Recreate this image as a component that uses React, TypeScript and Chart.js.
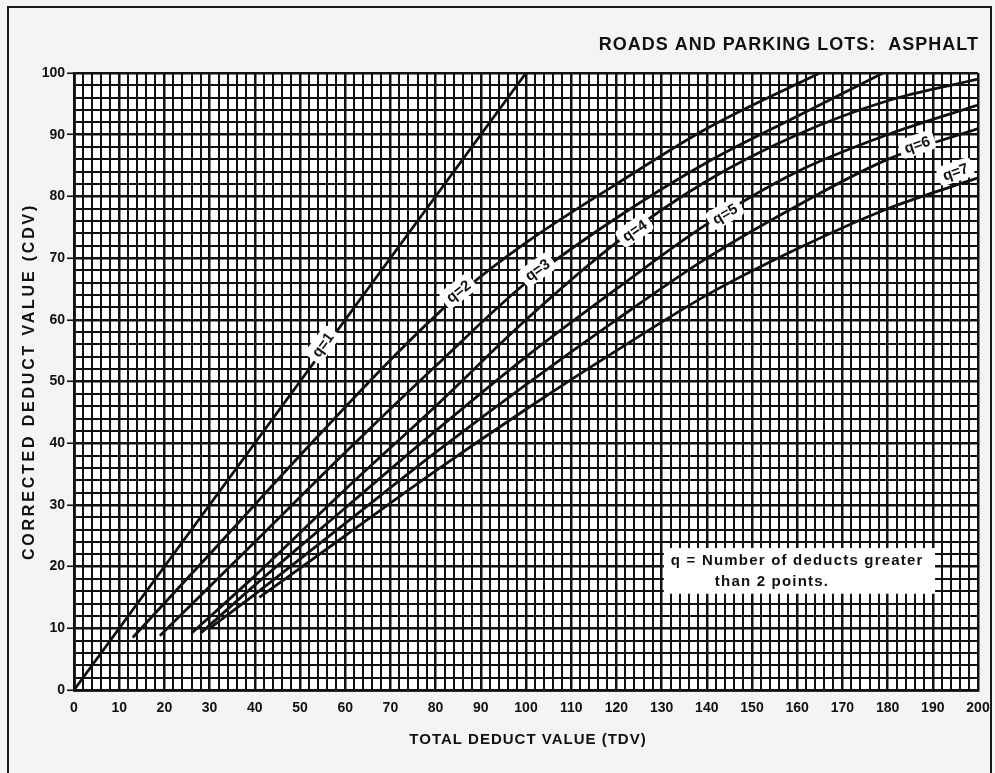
import React, { useEffect, useRef } from "react";
import { Chart, registerables } from "chart.js";

Chart.register(...registerables);

const TITLE = "ROADS AND PARKING LOTS:  ASPHALT";
const X_TITLE = "TOTAL DEDUCT VALUE (TDV)";
const Y_TITLE = "CORRECTED DEDUCT VALUE (CDV)";
const LEGEND_LINES = ["q = Number of deducts greater", "than 2 points."];

const curveNames = ["q=1", "q=2", "q=3", "q=4", "q=5", "q=6", "q=7"];

const q1TDV = [0, 50, 100];
const q1CDV = [0, 50, 100];
const q2TDV = [13, 30, 50, 70, 85, 100, 120, 140, 165];
const q2CDV = [8.5, 22, 38, 53.5, 64, 72.5, 82, 91, 100];
const q3TDV = [19, 40, 60, 80, 100, 120, 140, 160, 179];
const q3CDV = [8.8, 24, 38.5, 52.5, 66, 76.5, 85.5, 93, 100];
const q4TDV = [26, 40, 60, 80, 100, 120, 140, 160, 180, 200];
const q4CDV = [9.2, 18.5, 32.5, 46, 60, 72.5, 82.5, 90, 95.5, 99];
const q5TDV = [28, 40, 60, 80, 100, 120, 140, 160, 180, 200];
const q5CDV = [9.2, 17, 29.5, 42, 54, 65, 75.5, 84, 90, 94.8];
const q6TDV = [30, 40, 60, 80, 100, 120, 140, 160, 180, 200];
const q6CDV = [10, 15.5, 27, 38.5, 49.5, 60, 70, 78.5, 86, 91];
const q7TDV = [41, 60, 80, 100, 120, 140, 160, 180, 200];
const q7CDV = [15, 25, 35.5, 45.5, 55, 64, 71.5, 78, 83];

const curveTDV = [q1TDV, q2TDV, q3TDV, q4TDV, q5TDV, q6TDV, q7TDV];
const curveCDV = [q1CDV, q2CDV, q3CDV, q4CDV, q5CDV, q6CDV, q7CDV];

// where each q label sits along its curve (TDV) and how far above the curve (px)
const labelTDV = [55, 85, 102.5, 124, 144, 186.5, 195];
const labelLift = [6, 4, 5, 0, 0, 5, 14];

const xTickValues = [0, 10, 20, 30, 40, 50, 60, 70, 80, 90, 100, 110, 120, 130, 140, 150, 160, 170, 180, 190, 200];
const yTickValues = [0, 10, 20, 30, 40, 50, 60, 70, 80, 90, 100];

const FONT = "'Liberation Sans', Arial, sans-serif";
const INK = "#111111";

function interp(xs: number[], ys: number[], t: number) {
  if (t <= xs[0]) return ys[0];
  for (let i = 1; i < xs.length; i++) {
    if (t <= xs[i]) {
      const f = (t - xs[i - 1]) / (xs[i] - xs[i - 1]);
      return ys[i - 1] + f * (ys[i] - ys[i - 1]);
    }
  }
  return ys[ys.length - 1];
}

function roundRect(ctx: CanvasRenderingContext2D, x: number, y: number, w: number, h: number, r: number) {
  ctx.beginPath();
  ctx.moveTo(x + r, y);
  ctx.lineTo(x + w - r, y);
  ctx.quadraticCurveTo(x + w, y, x + w, y + r);
  ctx.lineTo(x + w, y + h - r);
  ctx.quadraticCurveTo(x + w, y + h, x + w - r, y + h);
  ctx.lineTo(x + r, y + h);
  ctx.quadraticCurveTo(x, y + h, x, y + h - r);
  ctx.lineTo(x, y + r);
  ctx.quadraticCurveTo(x, y, x + r, y);
  ctx.closePath();
}

const plotBgPlugin = {
  id: "plotBg",
  beforeDraw(chart: any) {
    const { ctx, chartArea } = chart;
    ctx.save();
    ctx.fillStyle = "#ffffff";
    ctx.fillRect(chartArea.left, chartArea.top, chartArea.right - chartArea.left, chartArea.bottom - chartArea.top);
    ctx.restore();
  },
};

const titlesPlugin = {
  id: "titles",
  afterDraw(chart: any) {
    const { ctx, chartArea } = chart;
    ctx.save();
    ctx.fillStyle = INK;
    ctx.textBaseline = "middle";
    // main title
    (ctx as any).letterSpacing = "1px";
    ctx.font = `bold 18px ${FONT}`;
    ctx.textAlign = "right";
    ctx.fillText(TITLE, chartArea.right + 1, 45);
    // x title
    ctx.textAlign = "center";
    ctx.font = `bold 15px ${FONT}`;
    (ctx as any).letterSpacing = "1px";
    ctx.fillText(X_TITLE, (chartArea.left + chartArea.right) / 2 + 2, 740);
    // y title
    ctx.save();
    ctx.translate(30, (chartArea.top + chartArea.bottom) / 2);
    ctx.rotate(-Math.PI / 2);
    ctx.font = `bold 16px ${FONT}`;
    (ctx as any).letterSpacing = "2.8px";
    ctx.fillText(Y_TITLE, 0, 0);
    ctx.restore();
    ctx.restore();
  },
};

const labelPlugin = {
  id: "curveLabels",
  afterDatasetsDraw(chart: any) {
    const { ctx } = chart;
    const xs = chart.scales.x;
    const ys = chart.scales.y;
    ctx.save();
    curveNames.forEach((name, i) => {
      const t = labelTDV[i];
      const c = interp(curveTDV[i], curveCDV[i], t);
      const c2 = interp(curveTDV[i], curveCDV[i], t + 2);
      const px = xs.getPixelForValue(t);
      const py = ys.getPixelForValue(c) - labelLift[i];
      const ang = Math.atan2(ys.getPixelForValue(c2) - ys.getPixelForValue(c), xs.getPixelForValue(t + 2) - px);
      ctx.save();
      ctx.translate(px, py);
      ctx.rotate(ang);
      ctx.font = `bold 15px ${FONT}`;
      const w = ctx.measureText(name).width + 10;
      const h = 20;
      ctx.fillStyle = "#ffffff";
      roundRect(ctx, -w / 2, -h / 2, w, h, 5);
      ctx.fill();
      ctx.fillStyle = INK;
      ctx.textAlign = "center";
      ctx.textBaseline = "middle";
      ctx.fillText(name, 0, 1);
      ctx.restore();
    });

    // legend note box
    const bx0 = xs.getPixelForValue(130.5);
    const bx1 = xs.getPixelForValue(190.5);
    const by0 = ys.getPixelForValue(23);
    const by1 = ys.getPixelForValue(15.6);
    ctx.fillStyle = "#ffffff";
    ctx.fillRect(bx0, by0, bx1 - bx0, by1 - by0);
    ctx.fillStyle = INK;
    ctx.font = `bold 15px ${FONT}`;
    (ctx as any).letterSpacing = "1.2px";
    ctx.textAlign = "left";
    ctx.textBaseline = "middle";
    ctx.fillText(LEGEND_LINES[0], bx0 + 7, by0 + 13);
    ctx.fillText(LEGEND_LINES[1], bx0 + 51, by0 + 34);
    ctx.restore();
  },
};

export default function App() {
  const canvasRef = useRef<HTMLCanvasElement | null>(null);

  useEffect(() => {
    if (!canvasRef.current) return;
    const datasets = curveNames.map((name, i) => ({
      label: name,
      data: curveTDV[i].map((t, k) => ({ x: t, y: curveCDV[i][k] })),
      borderColor: INK,
      borderWidth: 2.8,
      pointRadius: 0,
      fill: false,
      cubicInterpolationMode: "monotone" as const,
    }));

    const chart = new Chart(canvasRef.current, {
      type: "line",
      data: { datasets },
      options: {
        animation: false,
        responsive: false,
        layout: { padding: { left: 0, right: 17, top: 73, bottom: 0 } },
        plugins: {
          legend: { display: false },
          tooltip: { enabled: false },
          title: { display: false },
        },
        scales: {
          x: {
            type: "linear",
            min: 0,
            max: 200,
            afterFit(scale: any) {
              scale.height = 83;
              scale.paddingLeft = 0;
              scale.paddingRight = 0;
            },
            afterBuildTicks(scale: any) {
              const arr = [];
              for (let v = 0; v <= 200; v += 2) arr.push({ value: v });
              scale.ticks = arr;
            },
            ticks: {
              autoSkip: false,
              maxRotation: 0,
              padding: 10,
              color: INK,
              font: { family: FONT, size: 14, weight: "bold" },
              callback: (v: any) => (xTickValues.includes(Number(v)) ? String(v) : ""),
            },
            grid: {
              color: INK,
              lineWidth: (c: any) => (c.tick && c.tick.value % 10 === 0 ? 2.5 : 2),
              drawTicks: false,
            },
            border: { display: true, color: INK, width: 2.8 },
          },
          y: {
            type: "linear",
            min: 0,
            max: 100,
            afterFit(scale: any) {
              scale.width = 74;
              scale.paddingTop = 0;
              scale.paddingBottom = 0;
            },
            afterBuildTicks(scale: any) {
              const arr = [];
              for (let v = 0; v <= 100; v += 2) arr.push({ value: v });
              scale.ticks = arr;
            },
            ticks: {
              autoSkip: false,
              padding: 2,
              color: INK,
              font: { family: FONT, size: 14, weight: "bold" },
              callback: (v: any) => (yTickValues.includes(Number(v)) ? String(v) : ""),
            },
            grid: {
              color: INK,
              lineWidth: (c: any) => (c.tick && c.tick.value % 10 === 0 ? 2.5 : 2),
              tickLength: 7,
              tickColor: (c: any) => (c.tick && c.tick.value % 10 === 0 ? INK : "rgba(0,0,0,0)"),
              tickWidth: 1.6,
            },
            border: { display: true, color: INK, width: 2.8 },
          },
        },
      },
      plugins: [plotBgPlugin, labelPlugin, titlesPlugin],
    });
    return () => chart.destroy();
  }, []);

  return (
    <div
      style={{
        position: "fixed",
        left: 0,
        top: 0,
        width: 995,
        height: 773,
        background: "#f4f4f2",
        overflow: "hidden",
      }}
    >
      <div
        style={{
          position: "absolute",
          left: 7,
          top: 6,
          width: 981,
          height: 800,
          border: "2px solid #1a1a1a",
          borderBottom: "none",
        }}
      />
      <canvas
        ref={canvasRef}
        width={995}
        height={773}
        style={{ position: "absolute", left: 0, top: 0, display: "block" }}
      />
    </div>
  );
}
